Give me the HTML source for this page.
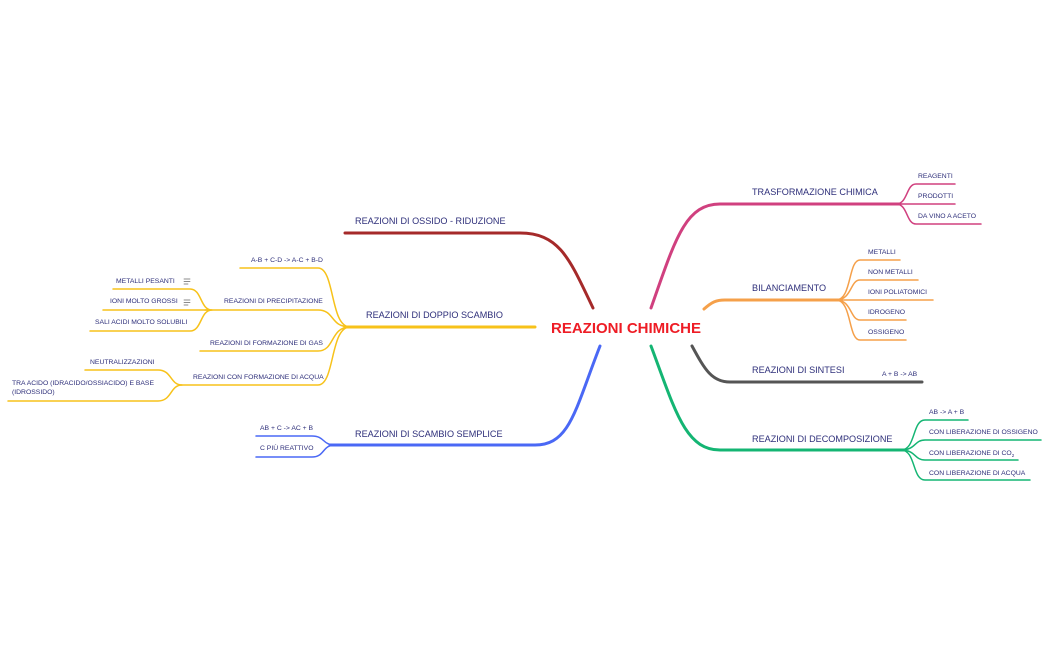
<!DOCTYPE html>
<html><head><meta charset="utf-8"><style>
html,body{margin:0;padding:0;background:#fff;}
svg{display:block;}
text{font-family:"Liberation Sans",sans-serif;fill:#2e2f7a;}
.m{font-size:9.1px;}
.s{font-size:6.8px;}
path{fill:none;stroke-linecap:round;}
</style></head><body>
<svg width="1050" height="650" viewBox="0 0 1050 650">
<text x="551" y="333" style="font-size:15px;font-weight:bold;fill:#ee1c25">REAZIONI CHIMICHE</text>

<g stroke="#d0407f">
<path d="M651 308 C675 240 685 204 720 204 L900 204" stroke-width="3"/>
<path d="M896 204 C908 204 906 184 916 184 L955 184 M896 204 L955 204 M896 204 C908 204 906 224 916 224 L981 224" stroke-width="1.5"/>
</g>
<text class="m" x="752" y="195">TRASFORMAZIONE CHIMICA</text>
<text class="s" x="918" y="178">REAGENTI</text>
<text class="s" x="918" y="198">PRODOTTI</text>
<text class="s" x="918" y="218">DA VINO A ACETO</text>

<g stroke="#f5a04a">
<path d="M704 309 C712 302 716 300 725 300 L840 300" stroke-width="3"/>
<path d="M836 300 C852 300 848 260 860 260 L900 260 M836 300 C852 300 850 280 860 280 L918 280 M836 300 L933 300 M836 300 C852 300 850 320 860 320 L906 320 M836 300 C852 300 848 340 860 340 L906 340" stroke-width="1.5"/>
</g>
<text class="m" x="752" y="291">BILANCIAMENTO</text>
<text class="s" x="868" y="254">METALLI</text>
<text class="s" x="868" y="274">NON METALLI</text>
<text class="s" x="868" y="294">IONI POLIATOMICI</text>
<text class="s" x="868" y="314">IDROGENO</text>
<text class="s" x="868" y="334">OSSIGENO</text>

<path d="M692 346 C705 370 712 382 730 382 L922 382" stroke="#555" stroke-width="3"/>
<text class="m" x="752" y="373">REAZIONI DI SINTESI</text>
<text class="s" x="882" y="376">A + B -&gt; AB</text>

<g stroke="#14b573">
<path d="M651 346 C675 410 685 450 720 450 L905 450" stroke-width="3"/>
<path d="M901 450 C916 450 912 420 925 420 L968 420 M901 450 C916 450 914 440 925 440 L1041 440 M901 450 C916 450 914 460 925 460 L1018 460 M901 450 C916 450 912 480 925 480 L1030 480" stroke-width="1.5"/>
</g>
<text class="m" x="752" y="442">REAZIONI DI DECOMPOSIZIONE</text>
<text class="s" x="929" y="414">AB -&gt; A + B</text>
<text class="s" x="929" y="434">CON LIBERAZIONE DI OSSIGENO</text>
<text class="s" x="929" y="455">CON LIBERAZIONE DI CO<tspan style="font-size:4.5px" dy="2">2</tspan></text>
<text class="s" x="929" y="475">CON LIBERAZIONE DI ACQUA</text>

<path d="M593 308 C570 260 560 233 520 233 L345 233" stroke="#a52a2a" stroke-width="3"/>
<text class="m" x="355" y="224">REAZIONI DI OSSIDO - RIDUZIONE</text>

<g stroke="#f7c21a">
<path d="M535 327 L345 327" stroke-width="3"/>
<path d="M350 327 C330 327 335 268 318 268 L240 268 M350 327 C330 327 335 310 318 310 L205 310 M350 327 C330 327 335 351 318 351 L200 351 M350 327 C330 327 335 385 318 385 L180 385" stroke-width="1.5"/>
<path d="M212 310 C200 310 202 289 190 289 L113 289 M212 310 L103 310 M212 310 C200 310 202 331 190 331 L90 331 M182 385 C170 385 172 370 158 370 L85 370 M182 385 C170 385 172 401 158 401 L8 401" stroke-width="1.5"/>
</g>
<text class="m" x="366" y="318">REAZIONI DI DOPPIO SCAMBIO</text>
<text class="s" x="251" y="262">A-B + C-D -&gt; A-C + B-D</text>
<text class="s" x="224" y="303">REAZIONI DI PRECIPITAZIONE</text>
<text class="s" x="116" y="283">METALLI PESANTI</text>
<text class="s" x="110" y="303">IONI MOLTO GROSSI</text>
<g stroke="#666" stroke-width="0.8"><path d="M184 279 L190 279 M184 281.5 L190 281.5 M184 284 L188 284 M184 300 L190 300 M184 302.5 L190 302.5 M184 305 L188 305"/></g>
<text class="s" x="95" y="324">SALI ACIDI MOLTO SOLUBILI</text>
<text class="s" x="210" y="345">REAZIONI DI FORMAZIONE DI GAS</text>
<text class="s" x="193" y="379">REAZIONI CON FORMAZIONE DI ACQUA</text>
<text class="s" x="90" y="364">NEUTRALIZZAZIONI</text>
<text class="s" x="12" y="385">TRA ACIDO (IDRACIDO/OSSIACIDO) E BASE</text>
<text class="s" x="12" y="394">(IDROSSIDO)</text>

<g stroke="#4a68f5">
<path d="M600 346 C575 410 570 445 535 445 L330 445" stroke-width="3"/>
<path d="M335 445 C322 445 325 436 312 436 L256 436 M335 445 C322 445 325 457 312 457 L256 457" stroke-width="1.5"/>
</g>
<text class="m" x="355" y="437">REAZIONI DI SCAMBIO SEMPLICE</text>
<text class="s" x="260" y="430">AB + C -&gt; AC + B</text>
<text class="s" x="260" y="450">C PIÙ REATTIVO</text>
</svg>
</body></html>
